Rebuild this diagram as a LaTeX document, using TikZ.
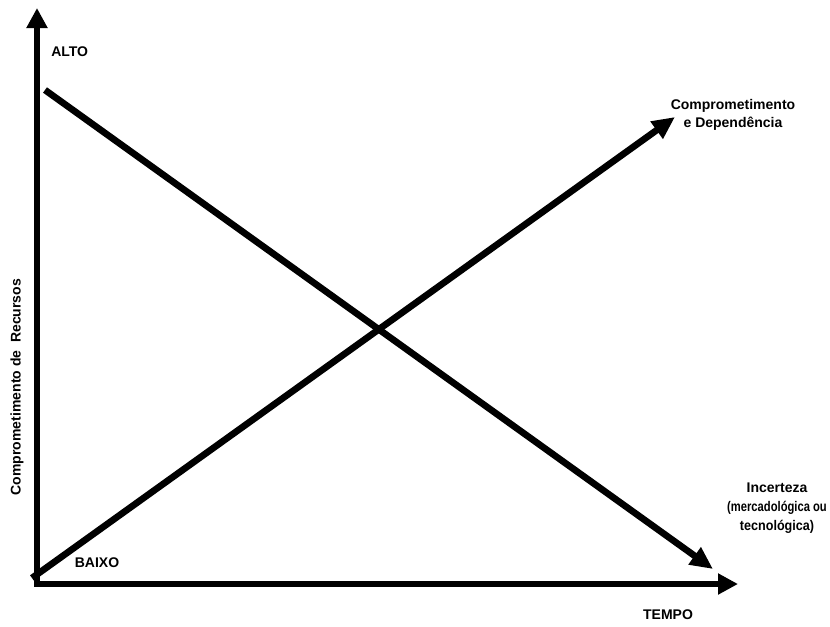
\documentclass[tikz,border=0pt]{standalone}
\usepackage{fontspec}
\setmainfont{Liberation Sans}
\usepackage{tikz}
\usetikzlibrary{arrows.meta,positioning}

\begin{document}
\begin{tikzpicture}[
    x=0.75pt, y=-0.75pt,
    >={Triangle[length=15pt,width=15pt]},
    lbl/.style={align=center, inner sep=0pt, font=\fontsize{10.5}{14}\selectfont\bfseries},
    axis/.style={->, line width=5pt},
    trend/.style={->, line width=5pt, >={Triangle[length=17pt,width=15pt]}}
]
\useasboundingbox[fill=white] (0,0) rectangle (830,626);

% Axes end points
\coordinate (origin) at (37,586);
\coordinate (ytip) at (37,8);
\coordinate (xtip) at (738,584);
\coordinate (xstart) at (34,584);

% Trend lines end points
\coordinate (highstart) at (45,90);
\coordinate (highend) at (713,569);
\coordinate (lowstart) at (32,578);
\coordinate (lowend) at (675,117);

% Labels
\node[lbl, anchor=west] (alto) at (51,52) {ALTO};
\node[lbl] (baixo) at (97,563) {BAIXO};
\node[lbl] (tempo) at (668,615) {TEMPO};
\node[lbl] (compromisso) at (733,115) {Comprometimento\\e Dependência};
\node[lbl] (incerteza) at (777,508) {Incerteza\\{\addfontfeature{FakeStretch=0.8}(mercadológica ou}\\{\addfontfeature{FakeStretch=0.9}tecnológica)}};
\node[lbl, rotate=90] (recursos) at (17,387) {Comprometimento de\ \ Recursos};

% Axes
\draw[axis] (origin) -- (ytip);
\draw[axis] (xstart) -- (xtip);

% Crossing trends
\draw[trend] (highstart) -- (highend);
\draw[trend] (lowstart) -- (lowend);

\end{tikzpicture}
\end{document}
